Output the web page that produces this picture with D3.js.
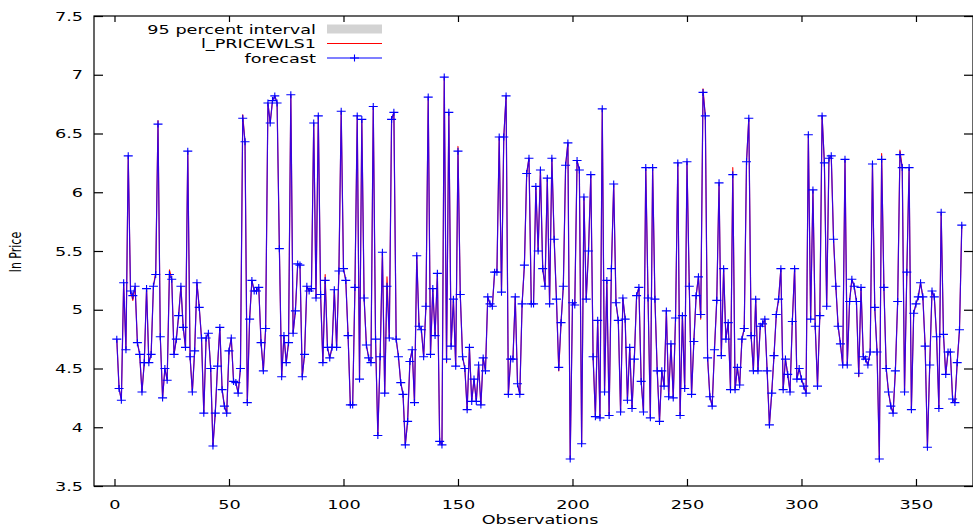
<!DOCTYPE html>
<html><head><meta charset="utf-8">
<script src="https://cdn.jsdelivr.net/npm/d3@7"></script>
<style>body{margin:0;background:#fff}svg{display:block}</style>
</head><body>
<svg id="chart" width="973" height="528"></svg>
<script>
// ---- data ----
const forecast = [
4.75,4.33,4.23,5.23,4.66,6.31,5.16,5.12,5.20,4.72,4.62,4.30,4.55,5.18,4.55,4.62,5.20,5.30,6.58,4.77,
4.25,4.50,4.40,5.30,5.26,4.62,4.75,4.95,5.20,4.85,4.68,6.35,4.60,4.30,4.65,5.23,5.02,4.76,4.12,4.76,
4.80,4.50,3.84,4.12,4.52,4.85,4.32,4.18,4.12,4.65,4.76,4.39,4.38,4.29,4.50,6.63,6.43,4.21,4.92,5.25,
5.16,5.16,5.19,4.72,4.48,4.84,6.76,6.59,6.78,6.82,6.76,5.52,4.43,4.78,4.55,4.72,6.83,4.80,4.99,5.39,
5.38,4.43,4.62,5.20,5.16,5.18,6.59,5.10,6.65,5.13,4.55,5.25,4.68,4.59,4.68,5.17,4.68,5.33,6.69,5.35,
5.25,4.78,4.19,4.19,5.19,6.65,4.41,6.62,5.10,4.70,4.59,4.55,6.73,4.75,3.93,4.60,5.49,4.29,5.20,4.76,
6.62,6.68,4.75,4.60,4.38,4.28,3.85,4.05,4.56,4.66,4.21,5.46,4.86,4.83,4.60,5.03,6.81,4.62,5.18,4.78,
5.31,3.88,3.85,6.98,4.58,6.68,4.69,5.09,4.52,6.35,5.13,4.60,4.50,4.15,4.68,4.22,4.41,4.22,4.53,4.19,
4.59,4.48,5.11,5.05,5.03,5.32,5.32,6.47,5.15,6.47,6.82,4.28,4.58,4.58,5.11,4.37,4.28,5.05,5.38,6.16,
6.29,5.05,5.05,6.05,5.50,6.19,5.35,5.20,6.12,5.05,6.29,5.60,5.09,4.51,4.89,5.20,6.23,6.42,3.73,5.06,
5.04,6.27,6.19,3.86,5.96,5.09,5.50,6.15,4.60,4.09,4.91,4.08,6.71,4.30,5.25,4.10,5.35,6.07,5.06,4.91,
4.13,5.10,4.92,4.23,4.68,4.16,4.58,5.12,5.19,4.39,4.13,6.21,5.10,4.08,6.21,5.09,4.48,4.05,4.48,4.35,
4.99,4.26,4.71,4.25,4.93,6.25,4.10,4.95,4.33,6.26,5.20,4.28,4.73,5.12,5.28,4.96,6.85,6.65,4.59,4.26,
4.18,4.66,5.08,6.08,4.61,5.35,4.75,4.89,4.32,6.15,4.32,4.51,4.36,4.75,4.84,6.26,6.63,4.78,4.48,5.09,
4.48,4.86,4.88,4.92,4.48,4.02,4.29,4.61,4.96,5.09,5.35,4.32,4.58,4.45,4.30,4.90,5.35,4.41,4.50,4.41,
4.35,4.29,6.49,4.92,6.02,4.86,4.35,4.95,6.65,6.25,5.03,6.29,6.31,5.60,5.20,4.86,4.71,4.53,6.28,4.53,
5.07,5.26,5.20,5.07,4.46,5.19,4.60,4.58,4.53,4.64,6.24,5.02,4.64,3.73,6.28,5.19,4.50,4.30,4.18,4.12,
4.48,5.07,6.32,6.21,4.30,5.32,6.21,4.15,4.97,5.05,5.11,5.23,5.11,4.69,3.83,4.53,5.16,5.11,4.77,4.16,
5.83,4.79,4.45,4.64,4.64,4.24,4.21,4.55,4.83,5.72
];
const actual = [
4.75,4.33,4.23,5.23,4.66,6.31,5.16,5.08,5.20,4.72,4.62,4.30,4.55,5.18,4.55,4.62,5.20,5.32,6.61,4.77,
4.25,4.50,4.40,5.34,5.26,4.62,4.75,4.95,5.20,4.85,4.68,6.35,4.60,4.30,4.65,5.23,5.02,4.76,4.12,4.76,
4.80,4.50,3.84,4.12,4.52,4.85,4.32,4.18,4.12,4.65,4.76,4.39,4.38,4.29,4.50,6.66,6.43,4.21,4.92,5.25,
5.16,5.16,5.19,4.72,4.48,4.84,6.76,6.59,6.78,6.82,6.76,5.52,4.43,4.78,4.55,4.72,6.83,4.80,4.99,5.39,
5.38,4.43,4.62,5.20,5.16,5.18,6.59,5.10,6.65,5.13,4.55,5.30,4.68,4.59,4.68,5.17,4.68,5.33,6.69,5.35,
5.25,4.78,4.19,4.19,5.19,6.65,4.41,6.62,5.10,4.70,4.59,4.55,6.73,4.75,3.93,4.60,5.49,4.29,5.28,4.76,
6.62,6.68,4.75,4.60,4.38,4.28,3.85,4.05,4.56,4.66,4.21,5.46,4.86,4.83,4.60,5.03,6.81,4.62,5.18,4.78,
5.31,3.88,3.85,6.98,4.55,6.68,4.69,5.09,4.52,6.39,5.13,4.60,4.50,4.15,4.68,4.22,4.41,4.22,4.53,4.19,
4.59,4.48,5.11,5.05,5.03,5.32,5.32,6.47,5.15,6.47,6.82,4.28,4.58,4.58,5.11,4.37,4.28,5.05,5.38,6.16,
6.29,5.05,5.05,6.05,5.50,6.19,5.35,5.20,6.12,5.05,6.29,5.60,5.09,4.48,4.89,5.20,6.23,6.42,3.73,5.06,
5.04,6.27,6.19,3.86,5.96,5.09,5.50,6.15,4.60,4.09,4.91,4.08,6.71,4.30,5.25,4.10,5.35,6.07,5.06,4.91,
4.13,5.10,4.92,4.23,4.68,4.16,4.58,5.12,5.19,4.39,4.13,6.21,5.10,4.08,6.21,5.09,4.48,4.05,4.48,4.35,
4.99,4.26,4.71,4.25,4.93,6.25,4.10,4.95,4.33,6.26,5.20,4.28,4.73,5.12,5.28,4.92,6.88,6.65,4.59,4.26,
4.18,4.66,5.08,6.08,4.61,5.35,4.75,4.89,4.32,6.21,4.32,4.51,4.36,4.75,4.84,6.26,6.63,4.78,4.48,5.09,
4.48,4.86,4.88,4.92,4.48,4.02,4.29,4.61,4.96,5.09,5.35,4.32,4.58,4.45,4.30,4.90,5.35,4.41,4.50,4.41,
4.35,4.29,6.49,4.92,6.02,4.86,4.35,4.95,6.65,6.25,5.03,6.29,6.31,5.60,5.20,4.86,4.71,4.53,6.28,4.53,
5.07,5.26,5.20,5.07,4.43,5.19,4.60,4.58,4.53,4.64,6.24,5.02,4.64,3.73,6.33,5.19,4.50,4.30,4.18,4.12,
4.48,5.07,6.36,6.21,4.30,5.32,6.21,4.15,4.97,5.05,5.11,5.23,5.11,4.69,3.83,4.53,5.16,5.11,4.77,4.16,
5.83,4.79,4.45,4.64,4.64,4.24,4.21,4.55,4.83,5.72
];
const xTickValues = [0, 50, 100, 150, 200, 250, 300, 350];
const yTickValues = [3.5, 4, 4.5, 5, 5.5, 6, 6.5, 7, 7.5];
const legendLabels = ["95 percent interval", "l_PRICEWLS1", "forecast"];
const xTitle = "Observations";
const yTitle = "ln Price";

// ---- layout ----
const plotLeft = 94, plotRight = 973, plotTop = 16, plotBottom = 486;
const SX = 1.36; // horizontal text stretch of the reference image
const fontFamily = "'DejaVu Sans', Verdana, sans-serif";

const svg = d3.select("#chart");
const x = d3.scaleLinear().domain([-8.95, 374.9]).range([plotLeft, plotRight]);
const y = d3.scaleLinear().domain([3.5, 7.5]).range([plotBottom, plotTop]);

const fData = forecast.map((v, i) => ({obs: i + 1, v}));
const aData = actual.map((v, i) => ({obs: i + 1, v}));

// frame
svg.append("rect").attr("x", plotLeft).attr("y", plotTop)
  .attr("width", plotRight - plotLeft).attr("height", plotBottom - plotTop)
  .attr("fill", "none").attr("stroke", "#000").attr("stroke-width", 1.2);

// axes
const gx = svg.append("g").attr("transform", `translate(0,${plotBottom})`)
  .call(d3.axisBottom(x).tickValues(xTickValues).tickSize(-7).tickPadding(14).tickFormat(d3.format("d")));
const gxTop = svg.append("g").attr("transform", `translate(0,${plotTop})`)
  .call(d3.axisTop(x).tickValues(xTickValues).tickSize(-6).tickFormat(""));
const gy = svg.append("g").attr("transform", `translate(${plotLeft},0)`)
  .call(d3.axisLeft(y).tickValues(yTickValues).tickSize(-9).tickPadding(11 / SX).tickFormat(d => String(d)));
const gyRight = svg.append("g").attr("transform", `translate(${plotRight},0)`)
  .call(d3.axisRight(y).tickValues(yTickValues).tickSize(-9).tickFormat(""));
[gx, gxTop, gy, gyRight].forEach(g => {
  g.select(".domain").remove();
  g.selectAll(".tick line").attr("stroke", "#000").attr("stroke-width", 1.2);
  g.selectAll("text").attr("font-family", fontFamily).attr("font-size", 13)
    .attr("fill", "#000").attr("transform", `scale(${SX},1)`);
});

// lines
const line = d3.line().x(d => x(d.obs)).y(d => y(d.v));
svg.append("path").datum(aData).attr("d", line)
  .attr("fill", "none").attr("stroke", "#ff0000").attr("stroke-width", 1.1).attr("stroke-linejoin", "round");
svg.append("path").datum(fData).attr("d", line)
  .attr("fill", "none").attr("stroke", "#1a00ff").attr("stroke-width", 1.2).attr("stroke-opacity", 0.86)
  .attr("stroke-linejoin", "round");
svg.append("g").selectAll("path").data(fData).join("path")
  .attr("transform", d => `translate(${x(d.obs)},${y(d.v)})`)
  .attr("d", "M-4.5,0H4.5M0,-3.5V3.5")
  .attr("stroke", "#0000ff").attr("stroke-width", 1.1).attr("fill", "none");

// legend
const legX = 316, swX1 = 327, swX2 = 382;
const legY = [29, 43.5, 58];
const leg = svg.append("g");
legendLabels.forEach((t, i) => {
  leg.append("text").attr("transform", `translate(${legX},${legY[i] + 4.5}) scale(${SX},1)`)
    .attr("text-anchor", "end").attr("font-family", fontFamily).attr("font-size", 13).text(t);
});
leg.append("rect").attr("x", swX1).attr("y", legY[0] - 4.5).attr("width", swX2 - swX1).attr("height", 9)
  .attr("fill", "#d3d3d3");
leg.append("line").attr("x1", swX1).attr("x2", swX2).attr("y1", legY[1]).attr("y2", legY[1])
  .attr("stroke", "#ff0000").attr("stroke-width", 1.2);
leg.append("line").attr("x1", swX1).attr("x2", swX2).attr("y1", legY[2]).attr("y2", legY[2])
  .attr("stroke", "#0000ff").attr("stroke-width", 1.2);
leg.append("path").attr("transform", `translate(${(swX1 + swX2) / 2},${legY[2]})`)
  .attr("d", "M-4.5,0H4.5M0,-3.5V3.5").attr("stroke", "#0000ff").attr("stroke-width", 1.1);

// axis titles
svg.append("text").attr("transform", `translate(540,524) scale(${SX},1)`)
  .attr("text-anchor", "middle").attr("font-family", fontFamily).attr("font-size", 13).text(xTitle);
svg.append("text").attr("transform", `translate(21,252) scale(${SX},1) rotate(-90)`)
  .attr("text-anchor", "middle").attr("font-family", fontFamily).attr("font-size", 11).text(yTitle);
</script>
</body></html>
